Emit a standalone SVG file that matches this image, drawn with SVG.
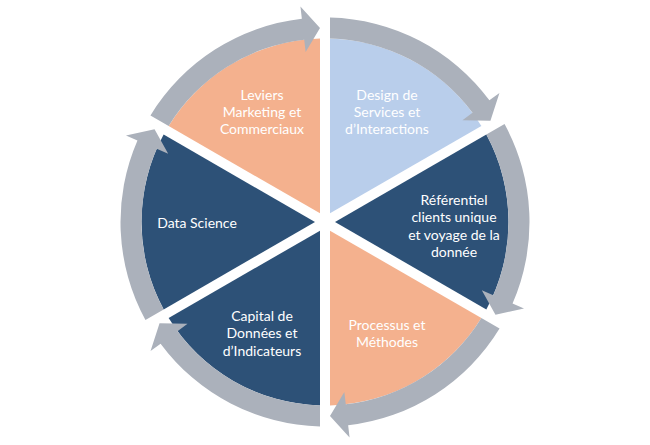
<svg xmlns="http://www.w3.org/2000/svg" xmlns:xlink="http://www.w3.org/1999/xlink" width="650" height="445" viewBox="0 0 650 445">
  <style>
    .orange { fill: #F4B18E; }
    .light { fill: #B9CEEB; }
    .dark { fill: #2D5177; }
    .arrow { fill: #ABB1BB; }
    text { font-family: Lato, "Liberation Sans", sans-serif; font-size: 14px; fill: #FFFFFF; text-anchor: middle; }
  </style>
  <defs>
    <path id="wedge" d="M330,213.34 L330,38.57 A183.5,183.5 0 0 1 481.36,125.95 Z"/>
    <path id="arrow" d="M330,38.57 L330,17.56 A204.5,204.5 0 0 1 489.39,100.36 L499.44,92.92 L490.45,120.70 L462.46,120.29 L472.51,112.85 A183.5,183.5 0 0 0 330,38.57 Z"/>
  </defs>
  <rect width="650" height="445" fill="#FFFFFF"/>
  <g id="design">
    <use xlink:href="#wedge" href="#wedge" class="light"/>
    <text x="387" y="99.5">Design de</text>
    <text x="387" y="116.6">Services et</text>
    <text x="387" y="133.6">d’Interactions</text>
  </g>
  <g id="referentiel">
    <use xlink:href="#wedge" href="#wedge" class="dark" transform="rotate(60 325 222)"/>
    <text x="454" y="205">Référentiel</text>
    <text x="454" y="222.4">clients unique</text>
    <text x="454" y="239.8">et voyage de la</text>
    <text x="454" y="257.2">donnée</text>
  </g>
  <g id="processus">
    <use xlink:href="#wedge" href="#wedge" class="orange" transform="rotate(120 325 222)"/>
    <text x="387" y="330">Processus et</text>
    <text x="387" y="347.3">Méthodes</text>
  </g>
  <g id="capital">
    <use xlink:href="#wedge" href="#wedge" class="dark" transform="rotate(180 325 222)"/>
    <text x="262" y="320.7">Capital de</text>
    <text x="262" y="338.1">Données et</text>
    <text x="262" y="355.5">d’Indicateurs</text>
  </g>
  <g id="data-science">
    <use xlink:href="#wedge" href="#wedge" class="dark" transform="rotate(240 325 222)"/>
    <text x="197" y="228.3">Data Science</text>
  </g>
  <g id="leviers">
    <use xlink:href="#wedge" href="#wedge" class="orange" transform="rotate(300 325 222)"/>
    <text x="262" y="99.5">Leviers</text>
    <text x="262" y="116.6">Marketing et</text>
    <text x="262" y="133.6">Commerciaux</text>
  </g>
  <g id="connectors">
    <use xlink:href="#arrow" href="#arrow" class="arrow"/>
    <use xlink:href="#arrow" href="#arrow" class="arrow" transform="rotate(60 325 222)"/>
    <use xlink:href="#arrow" href="#arrow" class="arrow" transform="rotate(120 325 222)"/>
    <use xlink:href="#arrow" href="#arrow" class="arrow" transform="rotate(180 325 222)"/>
    <use xlink:href="#arrow" href="#arrow" class="arrow" transform="rotate(240 325 222)"/>
    <use xlink:href="#arrow" href="#arrow" class="arrow" transform="rotate(300 325 222)"/>
  </g>
</svg>
